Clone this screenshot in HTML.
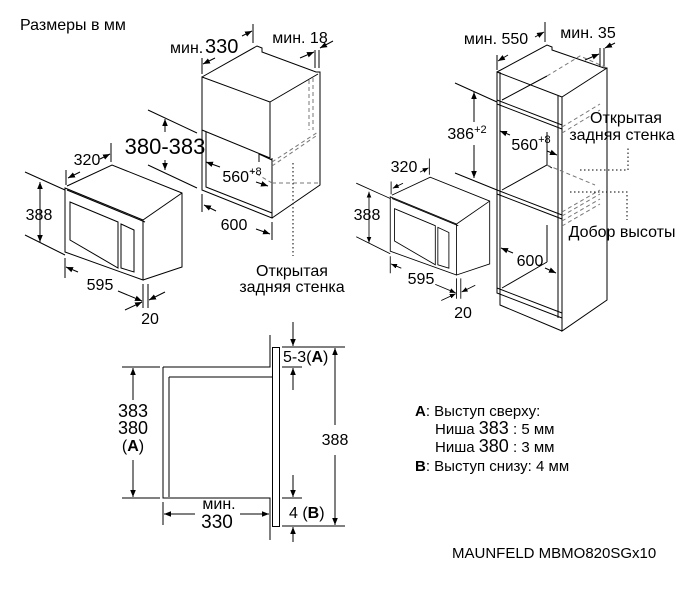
<!DOCTYPE html>
<html><head><meta charset="utf-8"><style>
html,body{margin:0;padding:0;background:#fff;}
svg{display:block;font-family:"Liberation Sans",sans-serif;}
</style></head><body>
<svg width="699" height="599" viewBox="0 0 699 599" xmlns="http://www.w3.org/2000/svg">
<defs>
<marker id="a" viewBox="0 0 10 10" refX="10" refY="5" markerWidth="7" markerHeight="7" orient="auto-start-reverse"><path d="M0,1 L10,5 L0,9 z" fill="#000"/></marker>
</defs>
<g fill="none" stroke="#000" stroke-width="1">
<g id="mw">
<path d="M65,188 L143,220 L143,280 L65,252 Z"/>
<path d="M67,186 L112,165 L182,193 L182,267 L143,280"/>
<path d="M143,220 L182,193"/>
<path d="M67,190 L145,222" />
<path d="M70,202 L118,222 L118,268 L70,240 Z"/>
<path d="M121,224 L134,230 L134,272 L121,268 Z"/>
<path d="M25,172 L65,190 M25,235 L65,255"/>
<line x1="40" y1="182" x2="40" y2="242" marker-start="url(#a)" marker-end="url(#a)"/>
<path d="M66,170 L66,185 M111,143 L111,162"/>
<line x1="68" y1="178" x2="80" y2="172" marker-start="url(#a)"/>
<line x1="100" y1="159" x2="110" y2="154" marker-end="url(#a)"/>
<path d="M65,258 L65,278 M143,284 L143,308 M148,284 L148,308"/>
<line x1="66" y1="267" x2="78" y2="272" marker-start="url(#a)"/>
<line x1="118" y1="291" x2="142" y2="301" marker-end="url(#a)"/>
<line x1="125" y1="310" x2="142" y2="302" marker-end="url(#a)"/>
<line x1="165" y1="292" x2="149" y2="300" marker-end="url(#a)"/>
</g>
<g transform="translate(335,37) scale(0.85)">
<path d="M65,188 L143,220 L143,280 L65,252 Z"/>
<path d="M67,186 L112,165 L182,193 L182,267 L143,280"/>
<path d="M143,220 L182,193"/>
<path d="M67,190 L145,222" />
<path d="M70,202 L118,222 L118,268 L70,240 Z"/>
<path d="M121,224 L134,230 L134,272 L121,268 Z"/>
<path d="M25,172 L65,190 M25,235 L65,255"/>
<line x1="40" y1="182" x2="40" y2="242" marker-start="url(#a)" marker-end="url(#a)"/>
<path d="M66,170 L66,185 M111,143 L111,162"/>
<line x1="68" y1="178" x2="80" y2="172" marker-start="url(#a)"/>
<line x1="100" y1="159" x2="110" y2="154" marker-end="url(#a)"/>
<path d="M65,258 L65,278 M143,284 L143,308 M148,284 L148,308"/>
<line x1="66" y1="267" x2="78" y2="272" marker-start="url(#a)"/>
<line x1="118" y1="291" x2="142" y2="301" marker-end="url(#a)"/>
<line x1="125" y1="310" x2="142" y2="302" marker-end="url(#a)"/>
<line x1="165" y1="292" x2="149" y2="300" marker-end="url(#a)"/>
</g>
<path d="M202,77 L270,102 L270,158 L202,130 Z"/>
<path d="M202,77 L257,46 L262,48 L262,52 L316,72 L320,72 L320,185 L272,218"/>
<path d="M270,102 L318,74"/>
<path d="M202,130 L202,190 L272,218 L272,158"/>
<path d="M206,132 L206,187 L272,213"/>
<path d="M259,154 L272,160 M259,154 L259,162"/>
<g stroke-dasharray="4,3" stroke="#777">
<path d="M309,80 L309,130 M313,78 L313,130 M272,162 L318,132 M272,166 L316,136 M272,183 L320,183 M272,183 L250,170"/>
</g>
<path d="M148,110 L197,133 M148,165 L197,188"/>
<line x1="165" y1="132" x2="165" y2="119" marker-end="url(#a)"/>
<line x1="165" y1="160" x2="165" y2="170" marker-end="url(#a)"/>
<line x1="220" y1="167" x2="206" y2="162" marker-end="url(#a)"/>
<line x1="256" y1="182" x2="268" y2="186" marker-end="url(#a)"/>
<path d="M202,194 L202,212 M272,222 L272,240"/>
<line x1="216" y1="211" x2="204" y2="205" marker-end="url(#a)"/>
<line x1="256" y1="229" x2="270" y2="234" marker-end="url(#a)"/>
<path d="M202,58 L202,74 M253,24 L253,43 M315,50 L315,68 M319,50 L319,68"/>
<line x1="215" y1="58" x2="203" y2="64" marker-end="url(#a)"/>
<line x1="242" y1="36" x2="252" y2="31" marker-end="url(#a)"/>
<line x1="300" y1="58" x2="314" y2="52" marker-end="url(#a)"/>
<line x1="333" y1="41" x2="320" y2="48" marker-end="url(#a)"/>
<line x1="293" y1="163" x2="293" y2="256" stroke-dasharray="1.5,2.5"/>
<path d="M497,72 L547,45 L552,47 L552,50 L604,68 L607,68 L607,300 L562,331 L562,318 M497,72 L562,97 L562,318 L497,293 Z M562,97 L607,68"/>
<path d="M500,72 L500,293 M558,96 L558,318"/>
<path d="M497,100 L562,125 M497,104 L562,129 M497,190 L562,215 M497,194 L562,219 M497,288 L562,313"/>
<path d="M500,293 L500,305 L562,331"/>
<path d="M502,100 L547,76 M502,190 L547,165 L552,168 M502,288 L547,262 M547,165 L547,132 M547,262 L547,225"/>
<g stroke-dasharray="4,3" stroke="#777">
<path d="M547,76 L580,56 L607,68 M562,127 L600,104 M562,133 L600,110 M547,165 L595,185 M562,212 L600,190 M562,216 L600,194 M562,221 L600,199 M562,226 L600,204"/>
</g>
<path d="M455,83 L497,102 M455,173 L497,190"/>
<line x1="474" y1="122" x2="474" y2="92" marker-end="url(#a)"/>
<line x1="474" y1="145" x2="474" y2="178" marker-end="url(#a)"/>
<line x1="510" y1="135" x2="500" y2="131" marker-end="url(#a)"/>
<line x1="547" y1="151" x2="557" y2="155" marker-end="url(#a)"/>
<line x1="513" y1="253" x2="501" y2="248" marker-end="url(#a)"/>
<line x1="545" y1="268" x2="556" y2="273" marker-end="url(#a)"/>
<path d="M497,55 L497,70 M545,22 L545,42 M600,48 L600,66 M604,48 L604,66"/>
<line x1="508" y1="55" x2="498" y2="61" marker-end="url(#a)"/>
<line x1="535" y1="37" x2="544" y2="32" marker-end="url(#a)"/>
<line x1="585" y1="60" x2="599" y2="54" marker-end="url(#a)"/>
<line x1="615" y1="43" x2="605" y2="48" marker-end="url(#a)"/>
<path d="M580,170 L628,170 L628,148 M570,192 L627,192 L627,220" stroke-dasharray="1.5,2.5"/>
<path d="M163,367 L270,367 L270,335 M163,367 L163,498 L270,498 L270,540"/>
<path d="M169,377 L272,377 M169,377 L169,497"/>
<rect x="272.5" y="347.5" width="7" height="179"/>
<path d="M122,367 L160,367 M122,498 L160,498"/>
<line x1="133" y1="400" x2="133" y2="368" marker-end="url(#a)"/>
<line x1="133" y1="460" x2="133" y2="497" marker-end="url(#a)"/>
<path d="M163,502 L163,525"/>
<line x1="195" y1="514" x2="164" y2="514" marker-end="url(#a)"/>
<line x1="240" y1="514" x2="269" y2="514" marker-end="url(#a)"/>
<path d="M282,347 L345,347 M282,526 L345,526 M282,367 L302,367 M282,498 L302,498"/>
<line x1="335" y1="425" x2="335" y2="348" marker-end="url(#a)"/>
<line x1="335" y1="455" x2="335" y2="525" marker-end="url(#a)"/>
<line x1="293" y1="322" x2="293" y2="346" marker-end="url(#a)"/>
<line x1="293" y1="390" x2="293" y2="368" marker-end="url(#a)"/>
<line x1="293" y1="475" x2="293" y2="497" marker-end="url(#a)"/>
<line x1="293" y1="542" x2="293" y2="527" marker-end="url(#a)"/>
</g>
<g font-size="16" fill="#000" text-anchor="middle">
<text x="20" y="30" text-anchor="start">Размеры в мм</text>
<text x="39" y="220">388</text>
<text x="87" y="165">320</text>
<text x="100" y="290">595</text>
<text x="150" y="324">20</text>
<text x="170" y="53" text-anchor="start">мин.</text>
<text x="205" y="53" font-size="20" text-anchor="start">330</text>
<text x="300" y="43">мин. 18</text>
<text x="165" y="154" font-size="22">380-383</text>
<text x="242" y="182">560<tspan font-size="11" dy="-7">+8</tspan></text>
<text x="234" y="230">600</text>
<text x="292" y="276">Открытая</text>
<text x="292" y="292">задняя стенка</text>
<text x="496" y="44">мин. 550</text>
<text x="588" y="38">мин. 35</text>
<text x="467" y="139">386<tspan font-size="11" dy="-6">+2</tspan></text>
<text x="531" y="150">560<tspan font-size="11" dy="-7">+8</tspan></text>
<text x="626" y="123">Открытая</text>
<text x="622" y="140">задняя стенка</text>
<text x="622" y="237">Добор высоты</text>
<text x="530" y="266">600</text>
<text x="367" y="220">388</text>
<text x="404" y="172">320</text>
<text x="421" y="284">595</text>
<text x="463" y="318">20</text>
<text x="133" y="417" font-size="18">383</text>
<text x="133" y="434" font-size="18">380</text>
<text x="133" y="451" font-size="16">(<tspan font-weight="bold">A</tspan>)</text>
<text x="219" y="509">мин.</text>
<text x="217" y="528" font-size="19">330</text>
<text x="283" y="362" text-anchor="start">5-3(<tspan font-weight="bold">A</tspan>)</text>
<text x="335" y="445">388</text>
<text x="289" y="518" text-anchor="start">4 (<tspan font-weight="bold">B</tspan>)</text>
<g font-size="15" text-anchor="start">
<text x="415" y="416"><tspan font-weight="bold">A</tspan>: Выступ сверху:</text>
<text x="435" y="434">Ниша <tspan font-size="18">383</tspan> : 5 мм</text>
<text x="435" y="452">Ниша <tspan font-size="18">380</tspan> : 3 мм</text>
<text x="415" y="471"><tspan font-weight="bold">B</tspan>: Выступ снизу: 4 мм</text>
<text x="452" y="558">MAUNFELD MBMO820SGx10</text>
</g>
</g>
</svg>
</body></html>
